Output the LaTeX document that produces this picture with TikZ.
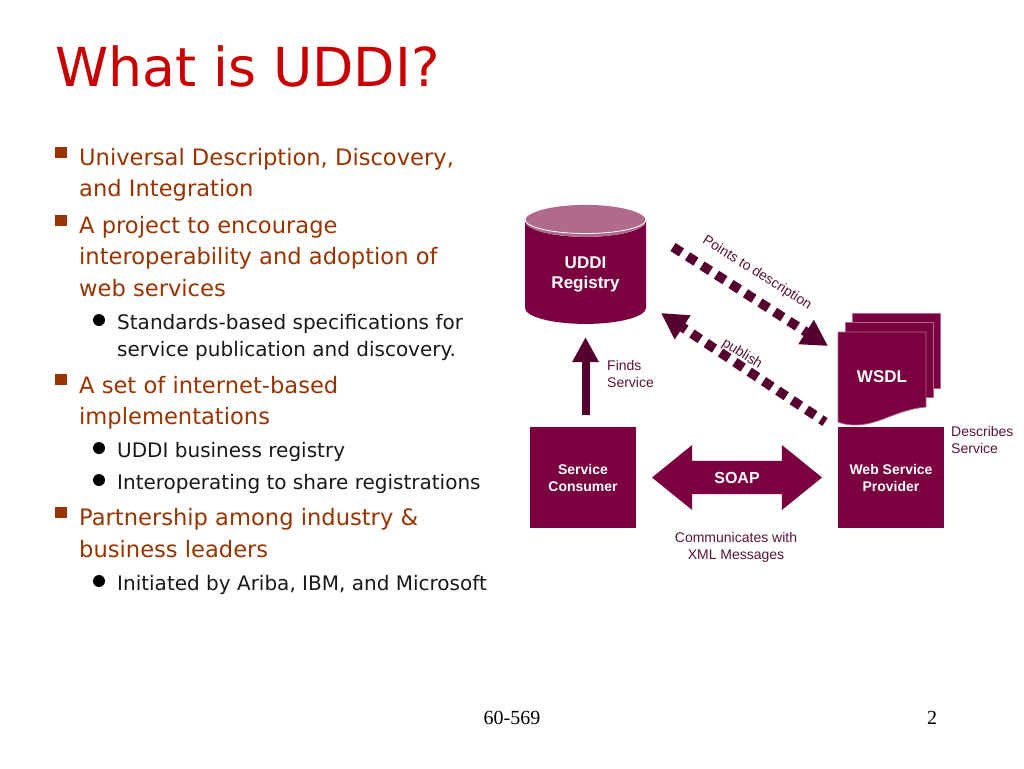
\documentclass[tikz,border=0pt]{standalone}
\usepackage{fontspec}
\setmainfont{DejaVu Sans}
\newfontfamily\labelfont{Liberation Sans}
\newfontfamily\footfont{Liberation Serif}
\usepackage{xcolor}
\usetikzlibrary{arrows.meta,positioning,shapes.geometric,shapes.arrows}
\definecolor{wine}{HTML}{7A0040}
\definecolor{winedark}{HTML}{55002F}
\definecolor{winelight}{HTML}{AF6A8C}
\definecolor{winetext}{HTML}{5A1238}
\definecolor{rust}{HTML}{993300}
\definecolor{titlered}{HTML}{C80000}

\begin{document}
\begin{tikzpicture}[
  x=1pt, y=1pt,
  bulletbox/.style={fill=rust, minimum size=11.5pt, inner sep=0pt},
  subdot/.style={circle, fill=black, minimum size=12pt, inner sep=0pt},
  mainitem/.style={anchor=north west, inner sep=0pt, align=left, text=rust, font=\fontsize{22.6}{31.5}\selectfont},
  subitem/.style={anchor=north west, inner sep=0pt, align=left, text=black!90, font=\fontsize{20}{27.5}\selectfont},
  box/.style={fill=wine, text=white, align=center, minimum width=106pt, minimum height=101pt, inner sep=0pt, font=\labelfont\bfseries\fontsize{14}{17}\selectfont},
  backpage/.style={fill=wine, draw=winelight, line width=0.8pt, minimum width=88pt, minimum height=75pt, inner sep=0pt},
  note/.style={anchor=north west, inner sep=0pt, align=left, text=winetext, font=\labelfont\fontsize{14}{17}\selectfont},
  flow/.style={-{Triangle[length=25pt,width=25pt]}, line width=8pt, draw=winedark},
  dotflow/.style={-{Triangle[length=26pt,width=27pt]}, line width=9.5pt, draw=winedark, dash pattern=on 10pt off 7.2pt}
]
\useasboundingbox (0,0) rectangle (1024,-768);

\node[anchor=base west, inner sep=0pt, text=titlered, font=\fontsize{53.7}{60}\selectfont] (title) at (55,-86) {What is UDDI?};

% left column
\node[bulletbox] (b1) at (61,-152.5) {};
\node[mainitem] (t1) at (79,-148) {Universal Description, Discovery,\\and Integration};
\node[bulletbox] (b2) at (61,-220.5) {};
\node[mainitem] (t2) at (79,-216) {A project to encourage\\interoperability and adoption of\\web services};
\node[subdot] (d1) at (99,-320) {};
\node[subitem] (s1) at (117,-314) {Standards-based specifications for\\service publication and discovery.};
\node[bulletbox] (b3) at (61,-379.5) {};
\node[mainitem] (t3) at (79,-376) {A set of internet-based\\implementations};
\node[subdot] (d2) at (99,-448) {};
\node[subitem] (s2) at (117,-442) {UDDI business registry};
\node[subdot] (d3) at (99,-480) {};
\node[subitem] (s3) at (117,-474) {Interoperating to share registrations};
\node[bulletbox] (b4) at (61,-512.5) {};
\node[mainitem] (t4) at (79,-508.5) {Partnership among industry \&\\business leaders};
\node[subdot] (d4) at (99,-581) {};
\node[subitem] (s4) at (117,-575) {Initiated by Ariba, IBM, and Microsoft};

% registry
\node[cylinder, shape border rotate=90, aspect=0.47, cylinder uses custom fill, cylinder body fill=wine, cylinder end fill=winelight, minimum width=121pt, minimum height=119pt, inner sep=0pt, text=white, align=center, font=\labelfont\bfseries\fontsize{17}{20}\selectfont] (registry) at (585.5,-272.5) {\rule{0pt}{16pt}UDDI\\Registry};
\draw[white, line width=0.8pt] (525,-219.5) arc (180:360:60.5 and 14);

% boxes
\node[box] (consumer) at (583,-477.5) {Service\\Consumer};
\node[box] (provider) at (891,-477.5) {Web Service\\Provider};
\node[double arrow, fill=wine, text=white, minimum width=65pt, minimum height=170pt, double arrow head extend=16pt, double arrow tip angle=78, double arrow head indent=0pt, inner xsep=3pt, inner ysep=10.7pt, font=\labelfont\bfseries\fontsize{16}{20}\selectfont] (soap) at (737,-477.5) {SOAP};

% wsdl pages
\node[backpage] (page3) at (896,-350.5) {};
\node[backpage] (page2) at (889,-360) {};
\path[fill=wine, draw=winelight, line width=0.8pt] (838,-332) -- (926,-332) -- (926,-407) .. controls (895,-410) and (880,-425) .. (855,-425) .. controls (848,-425) and (843,-424) .. (838,-422) -- cycle;
\node[inner sep=0pt, text=white, font=\labelfont\bfseries\fontsize{17}{20}\selectfont] (wsdl) at (882,-377) {WSDL};

% connectors
\coordinate (pointsstart) at (673,-247);
\coordinate (pointsend) at (828,-346);
\coordinate (pubstart) at (825,-422);
\coordinate (pubend) at (661,-313);
\draw[flow, shorten <=12pt, shorten >=13pt] (consumer.north -| registry.south) -- (registry.south);
\draw[dotflow] (pointsstart) -- (pointsend);
\draw[dotflow, dash phase=5pt] (pubstart) -- (pubend);

% labels
\node[note] (finds) at (607,-360) {Finds\\Service};
\node[note] (describes) at (951,-426) {Describes\\Service};
\node[note, anchor=north, align=center] (comm) at (736,-532) {Communicates with\\XML Messages};
\node[inner sep=0pt, rotate=-32.5, text=winetext, font=\labelfont\fontsize{14}{17}\selectfont] (points) at (757,-273) {Points to description};
\node[inner sep=0pt, rotate=-32.5, text=winetext, font=\labelfont\fontsize{14}{17}\selectfont] (publish) at (742,-354) {publish};

% footer
\node[anchor=base, inner sep=0pt, font=\footfont\fontsize{20}{22}\selectfont] (course) at (512,-724) {60-569};
\node[anchor=base, inner sep=0pt, font=\footfont\fontsize{20}{22}\selectfont] (pageno) at (932,-724) {2};
\end{tikzpicture}
\end{document}
